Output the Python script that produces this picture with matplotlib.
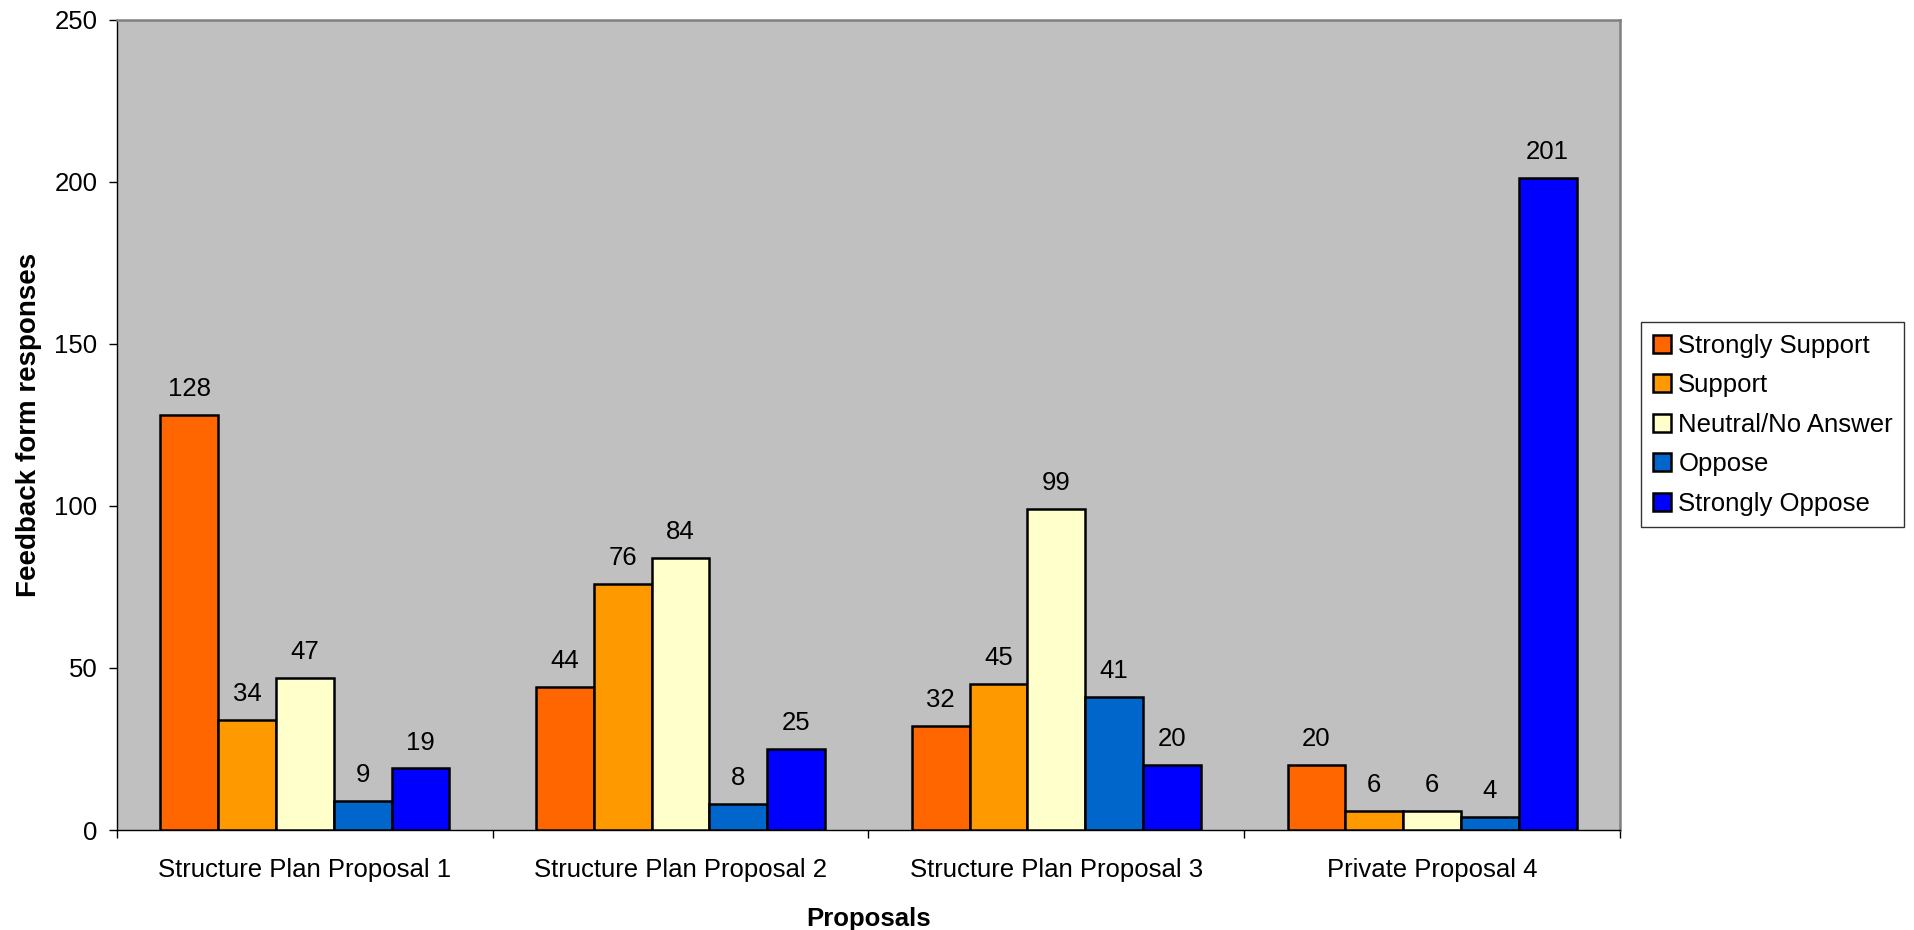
import numpy as np
import matplotlib
matplotlib.use("Agg")
from matplotlib import pyplot as plt

plt.rcParams['font.family'] = ['Liberation Sans', 'DejaVu Sans']

proposals = ['Structure Plan Proposal 1', 'Structure Plan Proposal 2',
             'Structure Plan Proposal 3', 'Private Proposal 4']
series = ['Strongly Support', 'Support', 'Neutral/No Answer', 'Oppose', 'Strongly Oppose']
strongly_support = [128, 44, 32, 20]
support = [34, 76, 45, 6]
neutral = [47, 84, 99, 6]
oppose = [9, 8, 41, 4]
strongly_oppose = [19, 25, 20, 201]
colors = ['#FF6600', '#FF9900', '#FFFFCC', '#0066CC', '#0000FF']

values = [strongly_support, support, neutral, oppose, strongly_oppose]
fs = 18.5

fig = plt.figure(figsize=(19.14, 9.30), dpi=100)
ax = fig.add_axes([0.0611, 0.1075, 0.7853, 0.8715])
ax.set_facecolor('#C0C0C0')

x = np.arange(len(proposals))
width = 1 / 6.5
for i, (name, vals, col) in enumerate(zip(series, values, colors)):
    pos = x + (i - 2) * width
    bars = ax.bar(pos, vals, width, color=col, edgecolor='black', linewidth=1.8,
                  label=name, zorder=3)
    for b, v in zip(bars, vals):
        ax.annotate(str(v), (b.get_x() + b.get_width() / 2, v), xytext=(0, 10),
                    textcoords='offset points', ha='center', va='bottom', fontsize=fs)

ax.set_xlim(-0.5, len(proposals) - 0.5)
ax.set_ylim(0, 250)
ax.set_yticks(np.arange(0, 251, 50))
ax.tick_params(axis='y', labelsize=fs, direction='out', length=6, width=1, pad=8)

# tick marks between groups, labels centred under groups
ax.set_xticks(np.arange(-0.5, len(proposals), 1))
ax.set_xticklabels([])
ax.set_xticks(x, minor=True)
ax.set_xticklabels(proposals, minor=True, fontsize=fs)
ax.tick_params(axis='x', which='major', direction='out', length=6, width=1)
ax.tick_params(axis='x', which='minor', length=0, pad=20)

for s in ['top', 'right']:
    ax.spines[s].set_color('#808080')
    ax.spines[s].set_linewidth(1.8)
for s in ['left', 'bottom']:
    ax.spines[s].set_color('black')
    ax.spines[s].set_linewidth(1)

ax.set_ylabel('Feedback form responses', fontsize=20, fontweight='bold', labelpad=9)
ax.set_xlabel('Proposals', fontsize=fs, fontweight='bold', labelpad=18)

leg = ax.legend(loc='center left', bbox_to_anchor=(1.014, 0.5), fontsize=fs,
                frameon=True, fancybox=False, edgecolor='black', handlelength=0.7,
                handleheight=0.7, handletextpad=0.3, borderpad=0.45, labelspacing=0.6,
                borderaxespad=0)
leg.get_frame().set_linewidth(1)

plt.savefig('out.png', dpi=100)
